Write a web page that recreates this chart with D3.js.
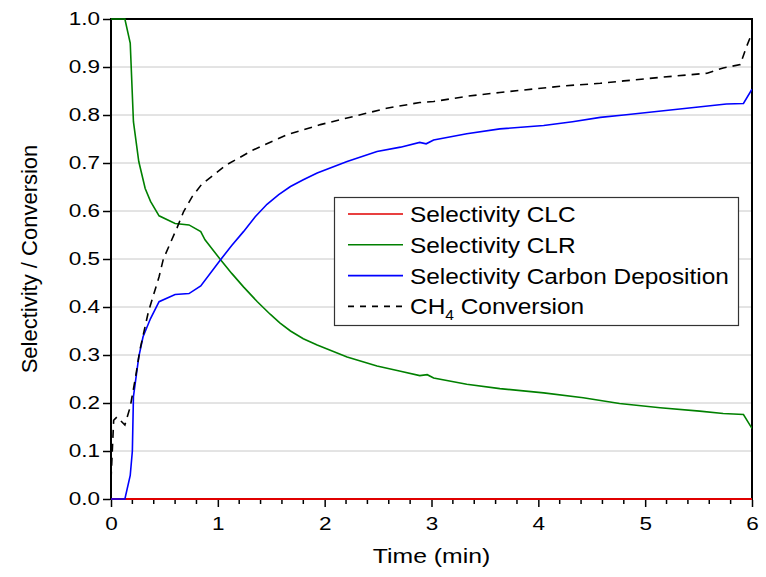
<!DOCTYPE html>
<html>
<head>
<meta charset="utf-8">
<script src="https://cdn.jsdelivr.net/npm/d3@7"></script>
<style>
  body { margin: 0; background: #fff; }
  text { font-family: "Liberation Sans", Arial, sans-serif; fill: #000; }
</style>
</head>
<body>
<script>
// values
var xTicks = [0, 1, 2, 3, 4, 5, 6];
var yTicks = [0, 0.1, 0.2, 0.3, 0.4, 0.5, 0.6, 0.7, 0.8, 0.9, 1.0];

var clcTime = [0, 6];
var clcVal  = [0, 0];

var clrTime = [0, 0.13, 0.18, 0.21, 0.26, 0.32, 0.37, 0.45, 0.60, 0.73, 0.84, 0.88, 1.02, 1.13, 1.24, 1.37, 1.49, 1.58, 1.68, 1.80, 1.93, 2.21, 2.49, 2.71, 2.89, 2.96, 3.02, 3.33, 3.64, 4.05, 4.42, 4.76, 5.14, 5.51, 5.73, 5.92, 6.0];
var clrVal  = [1.0, 1.0, 0.95, 0.786, 0.703, 0.647, 0.62, 0.59, 0.574, 0.571, 0.557, 0.54, 0.50, 0.47, 0.442, 0.411, 0.385, 0.367, 0.350, 0.334, 0.321, 0.296, 0.277, 0.266, 0.257, 0.259, 0.252, 0.239, 0.230, 0.221, 0.211, 0.199, 0.190, 0.183, 0.178, 0.176, 0.147];

var carbTime = [0, 0.13, 0.18, 0.20, 0.21, 0.26, 0.30, 0.37, 0.45, 0.60, 0.73, 0.84, 1.02, 1.13, 1.24, 1.35, 1.46, 1.57, 1.68, 1.80, 1.93, 2.21, 2.49, 2.71, 2.89, 2.95, 3.02, 3.33, 3.64, 4.05, 4.32, 4.58, 4.80, 5.39, 5.76, 5.92, 6.0];
var carbVal  = [0, 0, 0.049, 0.10, 0.213, 0.296, 0.338, 0.376, 0.411, 0.426, 0.428, 0.444, 0.497, 0.528, 0.557, 0.588, 0.614, 0.634, 0.651, 0.665, 0.679, 0.703, 0.724, 0.733, 0.743, 0.740, 0.748, 0.761, 0.771, 0.778, 0.786, 0.795, 0.800, 0.814, 0.823, 0.824, 0.854];

var ch4Time = [0, 0.025, 0.056, 0.13, 0.18, 0.23, 0.27, 0.35, 0.45, 0.49, 0.62, 0.68, 0.76, 0.85, 0.96, 1.08, 1.33, 1.65, 1.96, 2.27, 2.58, 2.89, 3.02, 3.33, 3.64, 3.95, 4.26, 4.58, 4.80, 5.17, 5.58, 5.73, 5.89, 5.95, 6.0];
var ch4Val  = [0.04, 0.164, 0.171, 0.154, 0.192, 0.254, 0.31, 0.39, 0.463, 0.50, 0.566, 0.599, 0.63, 0.656, 0.675, 0.696, 0.727, 0.759, 0.780, 0.797, 0.814, 0.826, 0.828, 0.839, 0.847, 0.854, 0.861, 0.866, 0.871, 0.879, 0.887, 0.898, 0.905, 0.943, 0.971];

var seriesNames = ["Selectivity CLC", "Selectivity CLR", "Selectivity Carbon Deposition", "CH4 Conversion"];
var seriesColors = ["#e00000", "#008000", "#0000ff", "#000000"];

var W = 766, H = 577;
var pLeft = 111, pRight = 752, pTop = 19, pBottom = 499;

var svg = d3.select("body").append("svg")
  .attr("width", W)
  .attr("height", H);

var x = d3.scaleLinear().domain([0, 6]).range([pLeft, pRight]);
var y = d3.scaleLinear().domain([0, 1]).range([pBottom, pTop]);

// grid
svg.append("g")
  .selectAll("line")
  .data(yTicks.filter(function(d) { return d > 0 && d < 1; }))
  .enter().append("line")
  .attr("x1", pLeft).attr("x2", pRight)
  .attr("y1", function(d) { return y(d); })
  .attr("y2", function(d) { return y(d); })
  .attr("stroke", "#c8c8c8")
  .attr("stroke-width", 1);

// frame
svg.append("rect")
  .attr("x", pLeft).attr("y", pTop)
  .attr("width", pRight - pLeft).attr("height", pBottom - pTop)
  .attr("fill", "none").attr("stroke", "#000").attr("stroke-width", 2);

function pairs(t, v) {
  return t.map(function(d, i) { return [d, v[i]]; });
}

var line = d3.line()
  .x(function(d) { return x(d[0]); })
  .y(function(d) { return y(d[1]); });

var series = [
  { data: pairs(clcTime, clcVal), color: seriesColors[0], dash: null, w: 2.2 },
  { data: pairs(clrTime, clrVal), color: seriesColors[1], dash: null, w: 1.6 },
  { data: pairs(carbTime, carbVal), color: seriesColors[2], dash: null, w: 1.6 },
  { data: pairs(ch4Time, ch4Val), color: seriesColors[3], dash: "8,6", w: 1.6 }
];

svg.append("defs").append("clipPath").attr("id", "clip")
  .append("rect").attr("x", pLeft).attr("y", pTop - 2)
  .attr("width", pRight - pLeft).attr("height", pBottom - pTop + 4);

svg.append("g").attr("clip-path", "url(#clip)")
  .selectAll("path")
  .data(series)
  .enter().append("path")
  .attr("d", function(d) { return line(d.data); })
  .attr("fill", "none")
  .attr("stroke", function(d) { return d.color; })
  .attr("stroke-width", function(d) { return d.w; })
  .attr("stroke-dasharray", function(d) { return d.dash; });

// axes
var xAxis = svg.append("g")
  .attr("transform", "translate(0," + pBottom + ")")
  .call(d3.axisBottom(x).tickValues(xTicks).tickSize(8).tickFormat(d3.format("d")));

var minor = d3.range(0, 6.001, 0.2).filter(function(d) { return Math.abs(d - Math.round(d)) > 0.01; });
svg.append("g").attr("transform", "translate(0," + pBottom + ")")
  .selectAll("line").data(minor).enter().append("line")
  .attr("x1", function(d) { return x(d); })
  .attr("x2", function(d) { return x(d); })
  .attr("y1", 1).attr("y2", 5)
  .attr("stroke", "#000").attr("stroke-width", 1.5);

var yAxis = svg.append("g")
  .attr("transform", "translate(" + pLeft + ",0)")
  .call(d3.axisLeft(y).tickValues(yTicks).tickSize(8).tickFormat(d3.format(".1f")));

[xAxis, yAxis].forEach(function(a) {
  a.select(".domain").remove();
  a.selectAll(".tick line").attr("stroke", "#000").attr("stroke-width", 1.5);
  a.selectAll("text").style("font-size", "18px");
});
xAxis.selectAll(".tick line").attr("y1", 1);
yAxis.selectAll(".tick line").attr("x1", -1);
xAxis.selectAll("text")
  .attr("y", 0).attr("dy", null)
  .attr("transform", "translate(0,31) scale(1.25,1)");
yAxis.selectAll("text")
  .attr("x", 0)
  .attr("transform", "translate(-11,0) scale(1.25,1)");

// titles
svg.append("text")
  .attr("transform", "translate(" + ((pLeft + pRight) / 2) + ",563) scale(1.18,1)")
  .attr("text-anchor", "middle")
  .style("font-size", "21px")
  .text("Time (min)");

svg.append("text")
  .attr("transform", "translate(37," + ((pTop + pBottom) / 2) + ") rotate(-90)")
  .attr("text-anchor", "middle")
  .style("font-size", "22px")
  .text("Selectivity / Conversion");

// legend
var lg = svg.append("g");
lg.append("rect")
  .attr("x", 334.5).attr("y", 197.5)
  .attr("width", 404).attr("height", 128)
  .attr("fill", "#fff").attr("stroke", "#333").attr("stroke-width", 1.2);

var legendOrder = [0, 1, 2, 3];
var rows = lg.selectAll("g.row").data(legendOrder).enter().append("g")
  .attr("transform", function(d, i) { return "translate(0," + (214 + i * 30.8) + ")"; });

rows.append("line")
  .attr("x1", 348).attr("x2", 403)
  .attr("y1", 0).attr("y2", 0)
  .attr("stroke", function(d) { return seriesColors[d]; })
  .attr("stroke-width", 1.6)
  .attr("stroke-dasharray", function(d) { return d === 3 ? "6,6" : null; });

rows.each(function(d) {
  var t = d3.select(this).append("text")
    .attr("transform", "translate(410,8) scale(1.11,1)")
    .style("font-size", "22px");
  if (d === 3) {
    t.append("tspan").text("CH");
    t.append("tspan").attr("dy", 6).style("font-size", "14px").text("4");
    t.append("tspan").attr("dy", -6).text(" Conversion");
  } else {
    t.text(seriesNames[d]);
  }
});
</script>
</body>
</html>
